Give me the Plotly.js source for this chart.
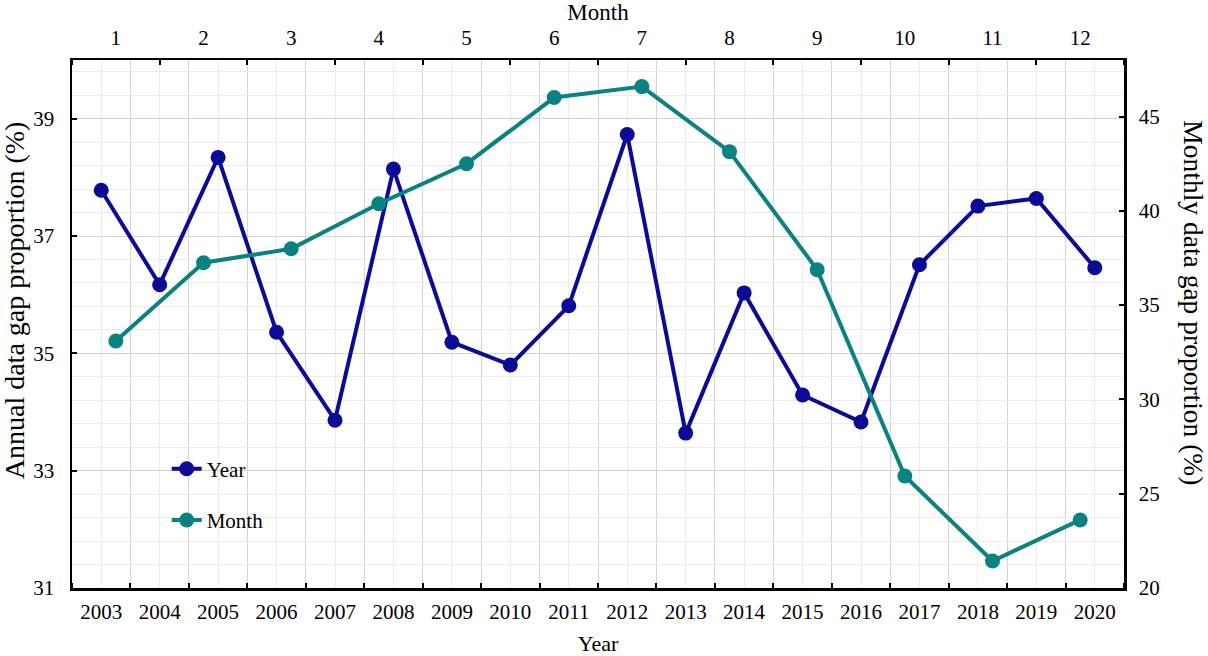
<!DOCTYPE html>
<html>
<head>
<meta charset="utf-8">
<script src="https://cdn.plot.ly/plotly-3.0.1.min.js"></script>
<style>html,body{margin:0;padding:0;background:#fff;}#chart{width:1208px;height:656px;}</style>
</head>
<body>
<div id="chart"></div>
<script>
const years = [2003,2004,2005,2006,2007,2008,2009,2010,2011,2012,2013,2014,2015,2016,2017,2018,2019,2020];
const yearValues = [37.78,36.17,38.34,35.36,33.86,38.14,35.19,34.80,35.81,38.73,33.64,36.03,34.29,33.83,36.51,37.51,37.64,36.46];
const months = [1,2,3,4,5,6,7,8,9,10,11,12];
const monthValues = [33.1,37.25,37.99,40.38,42.5,46.01,46.59,43.14,36.88,25.94,21.43,23.61];

const FONT = "Liberation Serif, Times New Roman, serif";
const yearColor = "#0b0b96";
const monthColor = "#0b8282";

const traces = [
  {x: years, y: yearValues, name: "Year", type: "scatter", mode: "lines+markers",
   xaxis: "x", yaxis: "y", legendgroup: "a",
   line: {color: yearColor, width: 4}, marker: {color: yearColor, size: 15}},
  {x: months, y: monthValues, name: "Month", type: "scatter", mode: "lines+markers",
   xaxis: "x2", yaxis: "y2", legendgroup: "b",
   line: {color: monthColor, width: 4}, marker: {color: monthColor, size: 15}}
];

const layout = {
  width: 1208, height: 656,
  margin: {l: 72, r: 84, t: 60, b: 68},
  paper_bgcolor: "#ffffff", plot_bgcolor: "#ffffff",
  font: {family: FONT, size: 20, color: "#000"},
  showlegend: true,
  legend: {x: 0.090, y: 0.264, xanchor: "left", yanchor: "top", bgcolor: "rgba(0,0,0,0)",
           font: {family: FONT, size: 21, color: "#000"}, traceorder: "grouped", tracegroupgap: 21},
  xaxis: {
    range: [2002.5, 2020.5], tickmode: "linear", tick0: 2003, dtick: 1, ticks: "",
    showgrid: true, gridcolor: "#ececec", gridwidth: 1, zeroline: false,
    showline: true, linecolor: "#000", linewidth: 2.5,
    tickfont: {family: FONT, size: 21}, ticklabelstandoff: 3,
    minor: {tick0: 2002.5, dtick: 1, ticks: "inside", ticklen: 5, tickwidth: 2, tickcolor: "#000",
            showgrid: true, gridcolor: "#d4d4d4", gridwidth: 1},
    title: {text: "Year", font: {family: FONT, size: 22}, standoff: 14}
  },
  xaxis2: {
    overlaying: "x", side: "top", anchor: "y",
    range: [0.5, 12.5], tickmode: "linear", tick0: 1, dtick: 1, ticks: "",
    showgrid: false, zeroline: false, showline: true, linecolor: "#000", linewidth: 2.5,
    tickfont: {family: FONT, size: 21}, ticklabelstandoff: 4,
    minor: {tick0: 0.5, dtick: 1, ticks: "inside", ticklen: 5, tickwidth: 2, tickcolor: "#000", showgrid: false},
    title: {text: "Month", font: {family: FONT, size: 23}, standoff: 0}
  },
  yaxis: {
    range: [31, 40], tickmode: "linear", tick0: 31, dtick: 2,
    ticks: "inside", ticklen: 5, tickwidth: 2, tickcolor: "#000",
    showgrid: true, gridcolor: "#d4d4d4", gridwidth: 1, zeroline: false,
    showline: true, linecolor: "#000", linewidth: 2.5,
    tickfont: {family: FONT, size: 21}, ticklabelstandoff: 11,
    minor: {tick0: 31, dtick: 0.4, ticks: "", showgrid: true, gridcolor: "#ececec", gridwidth: 1}
  },
  yaxis2: {
    overlaying: "y", side: "right", anchor: "x",
    range: [20, 48], tickmode: "linear", tick0: 20, dtick: 5,
    ticks: "inside", ticklen: 5, tickwidth: 2, tickcolor: "#000",
    showgrid: false, zeroline: false, showline: true, linecolor: "#000", linewidth: 2.5,
    tickfont: {family: FONT, size: 21}, ticklabelstandoff: 8
  },
  annotations: [
    {text: "Annual data gap proportion (%)", xref: "paper", yref: "paper", x: 0, y: 0.545,
     xanchor: "center", yanchor: "middle", xshift: -58, textangle: -90, showarrow: false,
     font: {family: FONT, size: 28, color: "#000"}},
    {text: "Monthly data gap proportion (%)", xref: "paper", yref: "paper", x: 1, y: 0.541,
     xanchor: "center", yanchor: "middle", xshift: 70, textangle: 90, showarrow: false,
     font: {family: FONT, size: 27.5, color: "#000"}}
  ]
};

Plotly.newPlot("chart", traces, layout, {displayModeBar: false, staticPlot: true});
</script>
</body>
</html>
